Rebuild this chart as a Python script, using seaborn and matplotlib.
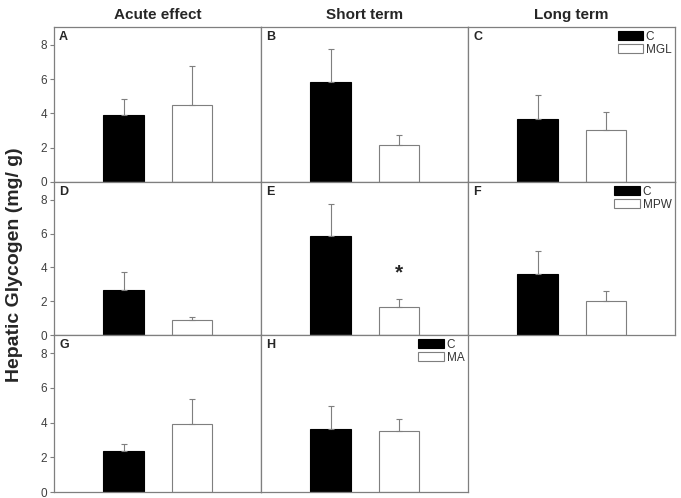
import matplotlib
matplotlib.use("Agg")
import matplotlib.pyplot as plt
import seaborn as sns
import pandas as pd
from matplotlib.patches import Patch

sns.set_style("white")
plt.rcParams['font.family'] = ['Liberation Sans', 'DejaVu Sans']

col_titles = ["Acute effect", "Short term", "Long term"]
panel_letters = ["A", "B", "C", "D", "E", "F", "G", "H"]
groups = ["C", "T"]
treatments = ["MGL", "MPW", "MA"]
# means [control, treated] per panel
means = {
    "A": [3.9, 4.47], "B": [5.86, 2.18], "C": [3.69, 3.04],
    "D": [2.65, 0.86], "E": [5.84, 1.65], "F": [3.6, 2.02],
    "G": [2.38, 3.94], "H": [3.63, 3.5],
}
# upper error bar tops
err_tops = {
    "A": [4.86, 6.78], "B": [7.76, 2.76], "C": [5.06, 4.1],
    "D": [3.7, 1.08], "E": [7.75, 2.1], "F": [4.98, 2.63],
    "G": [2.78, 5.37], "H": [4.98, 4.23],
}
star_panel = "E"
star_y = 3.66
yticks = [0, 2, 4, 6, 8]

fig = plt.figure(figsize=(6.81, 4.98), dpi=100)
W, H = 681, 498
left0 = 54
pw = 207
rows = [(27, 182), (182, 335), (335, 492)]
legend_panels = {"C": 0, "F": 1, "H": 2}

spine_c = "#7f7f7f"
for i, letter in enumerate(panel_letters):
    r, c = divmod(i, 3)
    top, bot = rows[r]
    ax = fig.add_axes([(left0 + c * pw) / W, 1 - bot / H, pw / W, (bot - top) / H])
    df = pd.DataFrame({"group": groups, "value": means[letter]})
    sns.barplot(data=df, x="group", y="value", hue="group", order=groups,
                hue_order=groups, palette=["black", "white"], width=0.6,
                edgecolor=[spine_c], linewidth=0.8, legend=False, ax=ax, dodge=False)
    for p, fc in zip(ax.patches, ["black", "white"]):
        p.set_edgecolor("black" if fc == "black" else spine_c)
    m = means[letter]
    e = err_tops[letter]
    ax.errorbar([0, 1], m, yerr=[[0, 0], [e[0] - m[0], e[1] - m[1]]], fmt="none",
                ecolor=spine_c, elinewidth=0.8, capsize=2, capthick=0.8, zorder=1)
    ax.set_xlim(-1.02, 2.01)
    ax.set_ylim(0, 9.05)
    ax.set_xlabel("")
    ax.set_ylabel("")
    ax.set_xticks([])
    if c == 0:
        ax.set_yticks(yticks)
        ax.tick_params(axis="y", direction="out", length=3, width=0.8, color=spine_c,
                       labelsize=8.5, labelcolor="#404040", left=True, pad=2)
    else:
        ax.set_yticks([])
    for s in ax.spines.values():
        s.set_color(spine_c)
        s.set_linewidth(0.9)
    ax.text(0.025, 0.975, letter, transform=ax.transAxes, ha="left", va="top",
            fontsize=9, fontweight="bold")
    if letter == star_panel:
        ax.text(1, star_y, "*", ha="center", va="center", fontsize=15, fontweight="bold")
    if letter in legend_panels:
        handles = [Patch(facecolor="black", edgecolor="black", linewidth=0.8),
                   Patch(facecolor="white", edgecolor=spine_c, linewidth=0.8)]
        ax.legend(handles, ["C", treatments[legend_panels[letter]]], loc="upper right",
                  frameon=False, fontsize=8.5, handlelength=2.2, handleheight=0.8,
                  handletextpad=0.2, labelspacing=0.1, borderaxespad=0.2,
                  borderpad=0.1, labelcolor="#333333")
    if r == 0:
        ax.set_title(col_titles[c], fontsize=11, fontweight="bold", pad=6)

fig.text(15 / W, 1 - 265 / H, "Hepatic Glycogen (mg/ g)", rotation=90,
         ha="center", va="center", fontsize=14, fontweight="bold")

fig.savefig("out.png", dpi=100)
